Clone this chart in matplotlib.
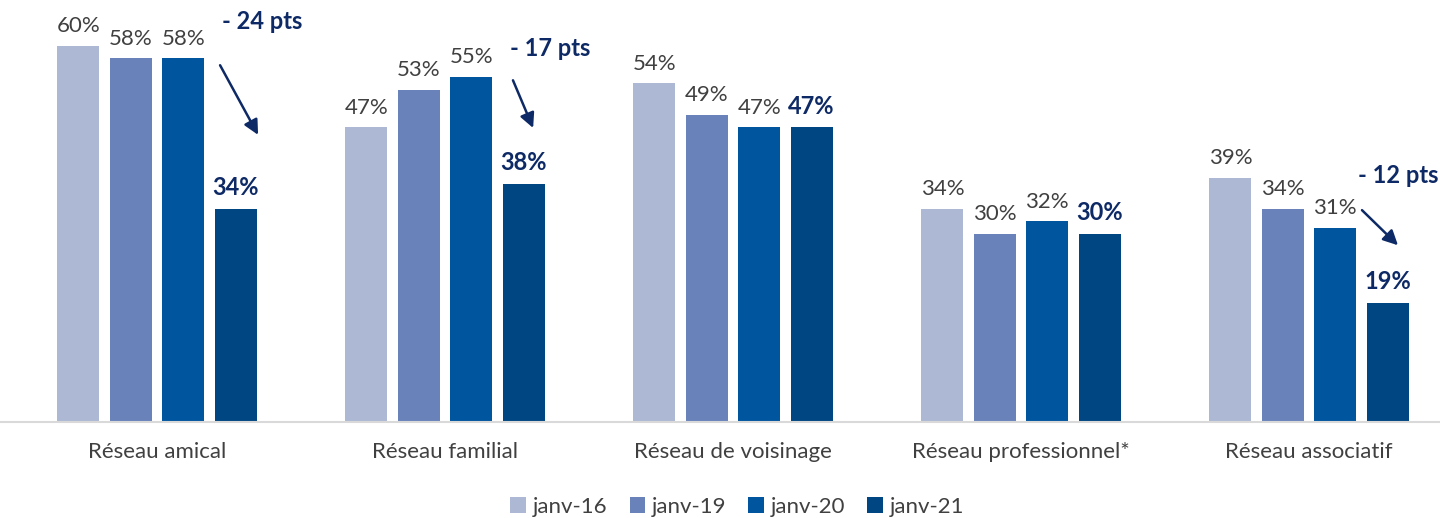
from __future__ import annotations

import matplotlib.pyplot as plt
import numpy as np

categories = ["Réseau amical", "Réseau familial", "Réseau de voisinage",
              "Réseau professionnel*", "Réseau associatif"]
series_names = ["janv-16", "janv-19", "janv-20", "janv-21"]
janv16 = [60, 47, 54, 34, 39]
janv19 = [58, 53, 49, 30, 34]
janv20 = [58, 55, 47, 32, 31]
janv21 = [34, 38, 47, 30, 19]

# évolutions annotées : (index catégorie, texte)
deltas = [(0, "- 24 pts"), (1, "- 17 pts"), (4, "- 12 pts")]

COLORS = ["#ADB9D4", "#6983BA", "#00559F", "#004682"]
NAVY = "#0E2A66"
GREY = "#404040"


def main() -> None:
    plt.rcParams["font.family"] = ["Lato", "DejaVu Sans"]
    fig = plt.figure(figsize=(14.4, 5.18), dpi=100)
    ax = fig.add_axes([0, 0.185, 1, 0.815])

    values = [janv16, janv19, janv20, janv21]
    x = np.arange(len(categories))
    step = 0.182
    width = 0.146
    for k, (name, vals) in enumerate(zip(series_names, values)):
        pos = x + (k - 1.5) * step
        bars = ax.bar(pos, vals, width, color=COLORS[k], label=name)
        last = k == len(values) - 1
        for b, v in zip(bars, vals):
            ax.annotate(f"{v}%", (b.get_x() + b.get_width() / 2, v),
                        xytext=(0, 7), textcoords="offset points",
                        ha="center", va="bottom",
                        fontsize=17 if last else 16,
                        fontweight="bold" if last else "normal",
                        color=NAVY if last else GREY)

    # flèches de baisse
    arrows = {0: ((0.219, 56.9), (0.351, 45.8), (0.365, 63.8)),
              1: ((1.236, 54.5), (1.306, 46.9), (1.365, 59.6)),
              4: ((4.184, 33.8), (4.309, 28.2), (4.309, 39.4))}
    for i, txt in deltas:
        start, end, tpos = arrows[i]
        ax.annotate("", xy=end, xytext=start,
                    arrowprops=dict(arrowstyle="-|>", color=NAVY, lw=1.8,
                                    mutation_scale=22, shrinkA=0, shrinkB=0))
        ax.text(tpos[0], tpos[1], txt, ha="center", va="center",
                fontsize=17, fontweight="bold", color=NAVY)

    ax.set_xlim(-157 / 288, (1440 - 157) / 288)
    ax.set_ylim(0, 67.3)
    ax.set_xticks(x)
    ax.set_xticklabels(categories, fontsize=16, color=GREY)
    ax.tick_params(axis="x", length=0, pad=14)
    ax.set_yticks([])
    for s in ["top", "right", "left"]:
        ax.spines[s].set_visible(False)
    ax.spines["bottom"].set_color("#D9D9D9")
    ax.spines["bottom"].set_linewidth(1.5)

    leg = fig.legend(loc="center", bbox_to_anchor=(0.512, 0.022), ncol=4,
                     frameon=False, fontsize=16, handlelength=0.7,
                     handleheight=0.7, handletextpad=0.3, columnspacing=1.0)
    for t in leg.get_texts():
        t.set_color(GREY)

    fig.savefig("out.png", dpi=100)


if __name__ == "__main__":
    main()
